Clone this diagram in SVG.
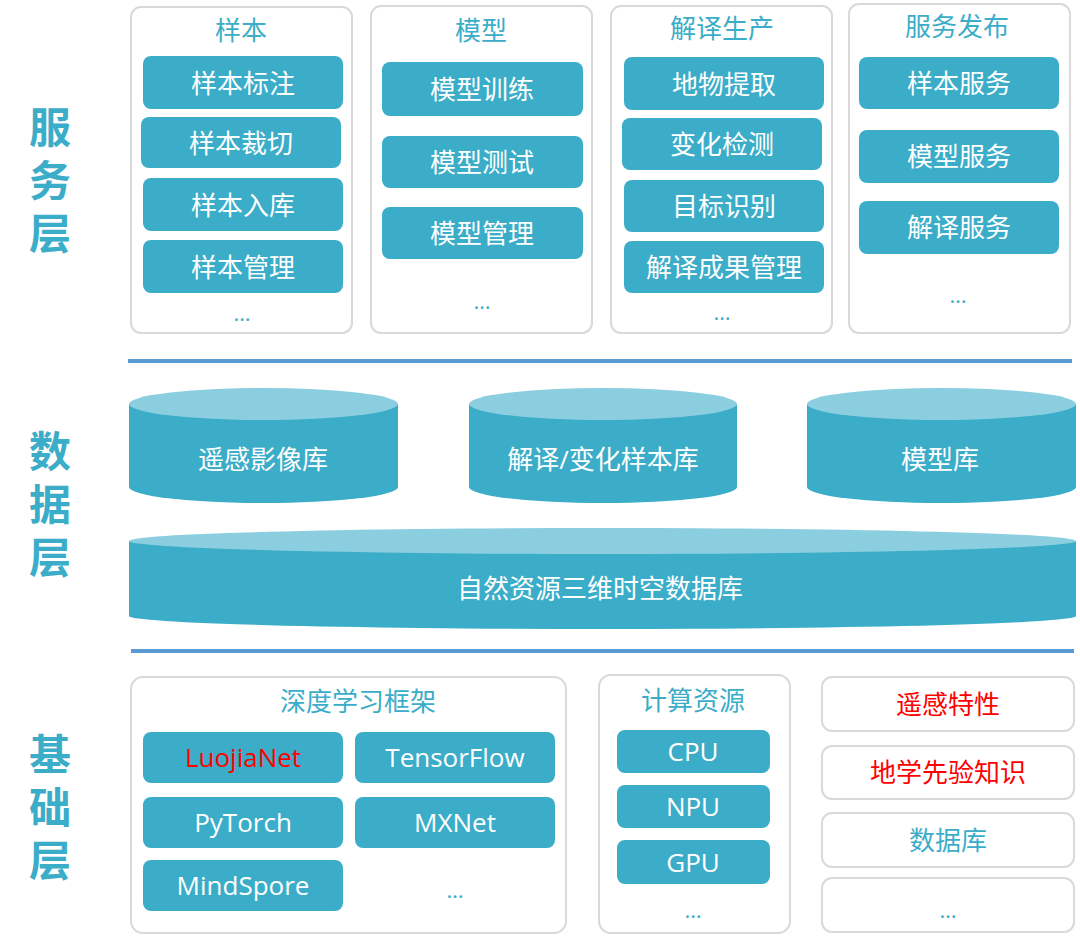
<svg xmlns="http://www.w3.org/2000/svg" width="1080" height="941" viewBox="0 0 1080 941">
<defs>
<style>
text{font-family:"Open Sans","Noto Sans CJK SC",sans-serif;text-anchor:middle}
.panel{fill:#fff;stroke:#d9d9d9;stroke-width:2}
.box{fill:#3badc8}
.bt{fill:#fff;font-size:26px;dominant-baseline:central}
.title{fill:#3badc8;font-size:26px;dominant-baseline:central}
.layer{fill:#3badc8;font-size:42px;font-weight:bold;font-family:"Noto Sans CJK SC",sans-serif;writing-mode:vertical-rl;letter-spacing:11px}
.dots{fill:#3badc8;font-size:22px}
.red{fill:#ff0000;font-size:26px;dominant-baseline:central}
.cyl{fill:#3badc8}
.cyltop{fill:#8acedf}
.div{stroke:#5b9bd5;stroke-width:4}
</style>
</defs>
<rect width="1080" height="941" fill="#fff"/>

<g id="layer-labels">
<text class="layer" x="50" y="186">服务层</text>
<text class="layer" x="50" y="510">数据层</text>
<text class="layer" x="50" y="813">基础层</text>
</g>

<g id="dividers">
<line class="div" x1="128" y1="361" x2="1072" y2="361"/>
<line class="div" x1="131" y1="651" x2="1074" y2="651"/>
</g>

<g id="panel-sample">
<rect class="panel" x="131" y="7" width="221" height="326" rx="10"/>
<text class="title" x="241" y="30">样本</text>
<rect class="box" x="143" y="56" width="200" height="53" rx="8"/>
<text class="bt" x="243" y="83">样本标注</text>
<rect class="box" x="141" y="117" width="200" height="51" rx="8"/>
<text class="bt" x="241" y="143">样本裁切</text>
<rect class="box" x="143" y="178" width="200" height="53" rx="8"/>
<text class="bt" x="243" y="205">样本入库</text>
<rect class="box" x="143" y="240" width="200" height="53" rx="8"/>
<text class="bt" x="243" y="267">样本管理</text>
<text class="dots" x="242" y="321">…</text>
</g>

<g id="panel-model">
<rect class="panel" x="371" y="6" width="221" height="327" rx="10"/>
<text class="title" x="481" y="30">模型</text>
<rect class="box" x="382" y="62" width="201" height="54" rx="8"/>
<text class="bt" x="482" y="89">模型训练</text>
<rect class="box" x="382" y="136" width="201" height="52" rx="8"/>
<text class="bt" x="482" y="162">模型测试</text>
<rect class="box" x="382" y="207" width="201" height="52" rx="8"/>
<text class="bt" x="482" y="233">模型管理</text>
<text class="dots" x="482" y="309">…</text>
</g>

<g id="panel-interp">
<rect class="panel" x="611" y="6" width="221" height="327" rx="10"/>
<text class="title" x="722" y="28">解译生产</text>
<rect class="box" x="624" y="57" width="200" height="53" rx="8"/>
<text class="bt" x="724" y="84">地物提取</text>
<rect class="box" x="622" y="118" width="200" height="52" rx="8"/>
<text class="bt" x="722" y="144">变化检测</text>
<rect class="box" x="624" y="180" width="200" height="52" rx="8"/>
<text class="bt" x="724" y="206">目标识别</text>
<rect class="box" x="624" y="241" width="200" height="52" rx="8"/>
<text class="bt" x="724" y="267">解译成果管理</text>
<text class="dots" x="722" y="320">…</text>
</g>

<g id="panel-publish">
<rect class="panel" x="849" y="4" width="221" height="329" rx="10"/>
<text class="title" x="957" y="26">服务发布</text>
<rect class="box" x="859" y="57" width="200" height="52" rx="8"/>
<text class="bt" x="959" y="83">样本服务</text>
<rect class="box" x="859" y="130" width="200" height="53" rx="8"/>
<text class="bt" x="959" y="156">模型服务</text>
<rect class="box" x="859" y="201" width="200" height="53" rx="8"/>
<text class="bt" x="959" y="227">解译服务</text>
<text class="dots" x="958" y="303">…</text>
</g>

<g id="db-rs">
<path class="cyl" d="M129 404 L129 487 A134.5 16 0 0 0 398 487 L398 404 Z"/>
<ellipse class="cyltop" cx="263.5" cy="404" rx="134.5" ry="16"/>
<text class="bt" x="263" y="459">遥感影像库</text>
</g>
<g id="db-sample">
<path class="cyl" d="M469 404 L469 487 A134 16 0 0 0 737 487 L737 404 Z"/>
<ellipse class="cyltop" cx="603" cy="404" rx="134" ry="16"/>
<text class="bt" x="603" y="459">解译/变化样本库</text>
</g>
<g id="db-model">
<path class="cyl" d="M807 404 L807 487 A134.5 16 0 0 0 1076 487 L1076 404 Z"/>
<ellipse class="cyltop" cx="941.5" cy="404" rx="134.5" ry="16"/>
<text class="bt" x="940" y="459">模型库</text>
</g>
<g id="db-3d">
<path class="cyl" d="M129 541 L129 616 A473.5 13 0 0 0 1076 616 L1076 541 Z"/>
<ellipse class="cyltop" cx="602.5" cy="541" rx="473.5" ry="13"/>
<text class="bt" x="600" y="588">自然资源三维时空数据库</text>
</g>

<g id="panel-dl">
<rect class="panel" x="131" y="677" width="435" height="256" rx="12"/>
<text class="title" x="358" y="701">深度学习框架</text>
<rect class="box" x="143" y="732" width="200" height="51" rx="8"/>
<text class="red" x="243" y="757">LuojiaNet</text>
<rect class="box" x="355" y="732" width="200" height="51" rx="8"/>
<text class="bt" x="455" y="757">TensorFlow</text>
<rect class="box" x="143" y="797" width="200" height="51" rx="8"/>
<text class="bt" x="243" y="822">PyTorch</text>
<rect class="box" x="355" y="797" width="200" height="51" rx="8"/>
<text class="bt" x="455" y="822">MXNet</text>
<rect class="box" x="143" y="860" width="200" height="51" rx="8"/>
<text class="bt" x="243" y="885">MindSpore</text>
<text class="dots" x="455" y="898">…</text>
</g>

<g id="panel-compute">
<rect class="panel" x="599" y="675" width="191" height="258" rx="12"/>
<text class="title" x="693" y="700">计算资源</text>
<rect class="box" x="617" y="730" width="153" height="43" rx="8"/>
<text class="bt" x="693" y="751">CPU</text>
<rect class="box" x="617" y="785" width="153" height="43" rx="8"/>
<text class="bt" x="693" y="806">NPU</text>
<rect class="box" x="617" y="840" width="153" height="44" rx="8"/>
<text class="bt" x="693" y="862">GPU</text>
<text class="dots" x="693" y="918">…</text>
</g>

<g id="rs-prop">
<rect class="panel" x="822" y="677" width="252" height="54" rx="10"/>
<text class="red" x="948" y="704">遥感特性</text>
</g>
<g id="geo-know">
<rect class="panel" x="822" y="746" width="252" height="53" rx="10"/>
<text class="red" x="948" y="772">地学先验知识</text>
</g>
<g id="database">
<rect class="panel" x="822" y="813" width="252" height="54" rx="10"/>
<text class="title" x="948" y="840">数据库</text>
</g>
<g id="more">
<rect class="panel" x="822" y="878" width="252" height="54" rx="10"/>
<text class="dots" x="948" y="918">…</text>
</g>
</svg>
